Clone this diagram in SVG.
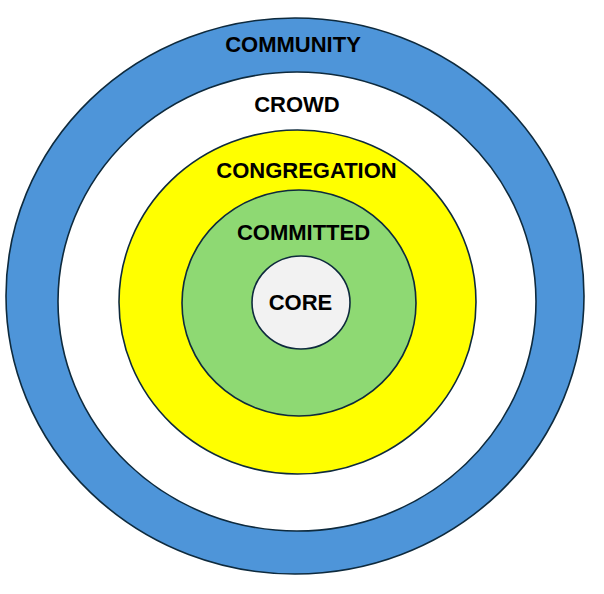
<svg xmlns="http://www.w3.org/2000/svg" width="604" height="594" viewBox="0 0 604 594">
<style>
.ring{stroke:#0e2a3d;stroke-width:1.6}
.lbl{font-family:"Liberation Sans",Arial,sans-serif;font-weight:bold;font-size:22px;fill:#000;text-anchor:middle}
</style>
<rect width="604" height="594" fill="#fff"/>
<g id="community"><ellipse class="ring" cx="295" cy="296" rx="289" ry="278" fill="#4e95d9"/></g>
<g id="crowd"><ellipse class="ring" cx="297" cy="301.5" rx="239" ry="229.5" fill="#fff"/></g>
<g id="congregation"><ellipse class="ring" cx="297.5" cy="302" rx="178.5" ry="172" fill="#ffff00"/></g>
<g id="committed"><ellipse class="ring" cx="299" cy="303" rx="117" ry="113" fill="#8ed973"/></g>
<g id="core"><ellipse class="ring" cx="301" cy="302.5" rx="49" ry="46.5" fill="#f2f2f2"/></g>
<g id="labels">
<text class="lbl" x="293" y="52">COMMUNITY</text>
<text class="lbl" x="297" y="112">CROWD</text>
<text class="lbl" x="306.5" y="178">CONGREGATION</text>
<text class="lbl" x="303.5" y="240">COMMITTED</text>
<text class="lbl" x="300.5" y="310">CORE</text>
</g>
<g id="connectors"/>
</svg>
